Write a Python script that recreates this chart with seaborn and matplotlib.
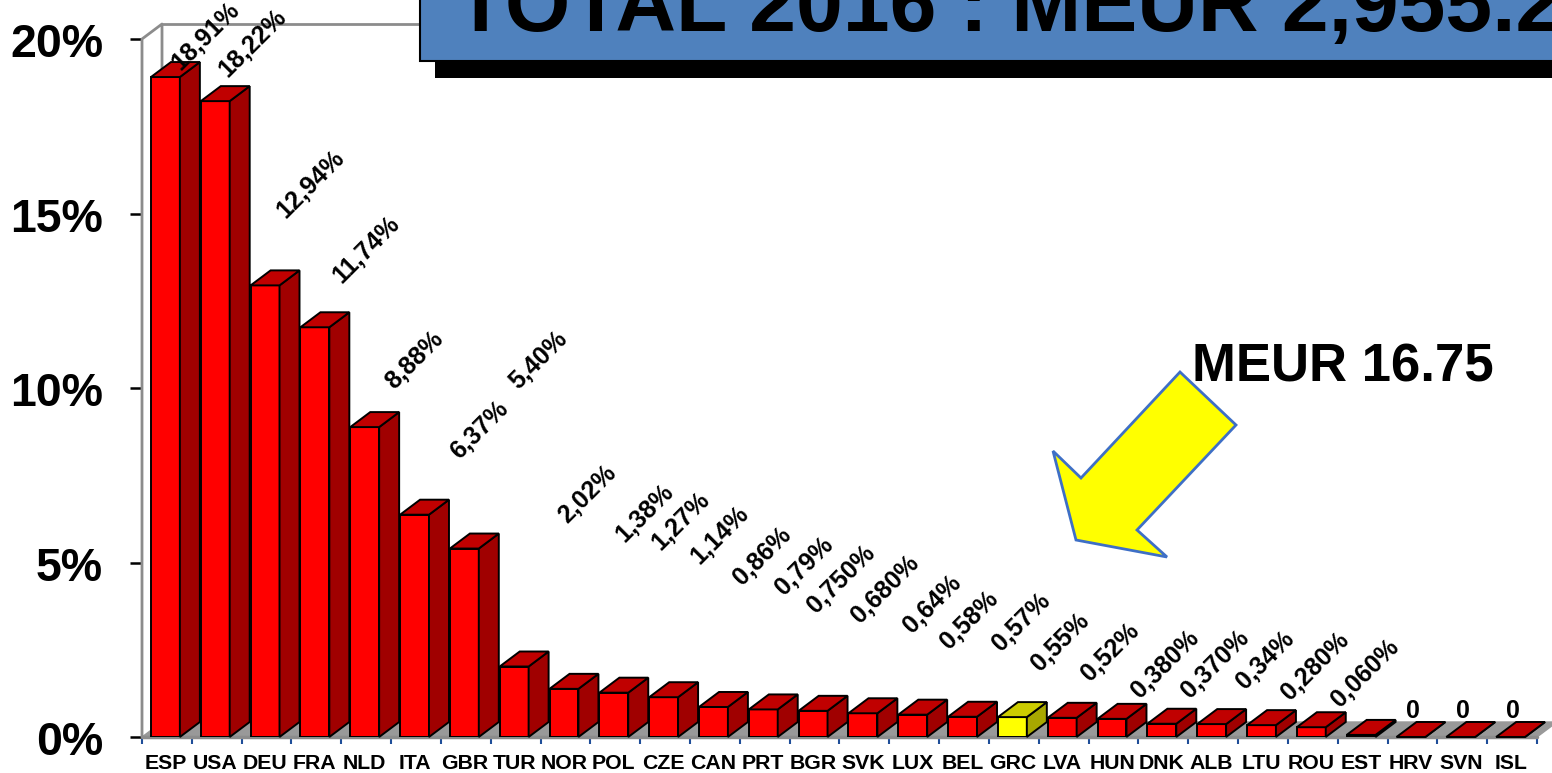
import pandas as pd
import matplotlib
matplotlib.use('Agg')
import matplotlib.pyplot as plt
from matplotlib.patches import Polygon, Rectangle
from matplotlib.transforms import ScaledTranslation
import seaborn as sns

# data
paises = ['ESP', 'USA', 'DEU', 'FRA', 'NLD', 'ITA', 'GBR', 'TUR', 'NOR', 'POL', 'CZE', 'CAN', 'PRT', 'BGR',
          'SVK', 'LUX', 'BEL', 'GRC', 'LVA', 'HUN', 'DNK', 'ALB', 'LTU', 'ROU', 'EST', 'HRV', 'SVN', 'ISL']
valores = [18.91, 18.22, 12.94, 11.74, 8.88, 6.37, 5.40, 2.02, 1.38, 1.27, 1.14, 0.86, 0.79, 0.75,
           0.68, 0.64, 0.58, 0.57, 0.55, 0.52, 0.38, 0.37, 0.34, 0.28, 0.06, 0, 0, 0]
etiquetas = ['18,91%', '18,22%', '12,94%', '11,74%', '8,88%', '6,37%', '5,40%', '2,02%', '1,38%', '1,27%',
             '1,14%', '0,86%', '0,79%', '0,750%', '0,680%', '0,64%', '0,58%', '0,57%', '0,55%', '0,52%',
             '0,380%', '0,370%', '0,34%', '0,280%', '0,060%', '0', '0', '0']
y_ticks = [0, 5, 10, 15, 20]
y_labels = ['0%', '5%', '10%', '15%', '20%']
titulo = 'TOTAL 2016 : MEUR 2,955.2'
nota = 'MEUR 16.75'
destacado = 'GRC'

# where each label sits on the 1552x773 canvas
pos_etiquetas = [(206, 36), (253, 43), (311, 184), (366, 250), (415, 360), (479, 430), (539, 360), (587, 494),
                 (645, 513), (681, 521), (720, 535), (762, 556), (804, 566), (841, 579), (885, 589), (932, 604),
                 (969, 620), (1021, 622), (1060, 642), (1110, 652), (1165, 664), (1215, 664), (1265, 660),
                 (1315, 666), (1365, 673), (1413, 711), (1463, 711), (1513, 711)]

sns.set_theme(style='white')
plt.rcParams['font.family'] = ['Liberation Sans', 'DejaVu Sans']
plt.rcParams['font.weight'] = 'bold'

df = pd.DataFrame({'pais': paises, 'valor': valores})

fig = plt.figure(figsize=(15.52, 7.73), dpi=100)
ax = fig.add_axes([142 / 1552, 36 / 773, 1395 / 1552, 698 / 773])

colores = {p: ('#FFFF00' if p == destacado else '#FF0000') for p in paises}
sns.barplot(data=df, x='pais', y='valor', hue='pais', order=paises, hue_order=paises, palette=colores,
            width=0.58, saturation=1, edgecolor='black', linewidth=1.4, legend=False, ax=ax, zorder=3)

x_min, x_max = -0.47, 27.53
ax.set_xlim(x_min, x_max)
ax.set_ylim(0, 20)
dx = 20 / 49.82
dy = 15 / 34.9

# 3d look: floor, walls, then top and side of each bar
ax.add_patch(Polygon([(x_min, 0), (x_max, 0), (x_max + dx, dy), (x_min + dx, dy)], closed=True,
                     fc='#999999', ec='#999999', lw=1, clip_on=False, zorder=1))
gris = '#8C8C8C'
ax.plot([x_min, x_min, x_min + dx, x_min + dx], [0, 20, 20 + dy, dy], color=gris, lw=2, clip_on=False, zorder=2)
ax.plot([x_min + dx, x_max + dx], [20 + dy, 20 + dy], color=gris, lw=2, clip_on=False, zorder=2)
ax.plot([x_min, x_max], [0, 0], color=gris, lw=2.5, clip_on=False, zorder=2)

for barra, p in zip(ax.patches, paises):
    x0 = barra.get_x()
    x1 = x0 + barra.get_width()
    h = barra.get_height()
    if p == destacado:
        c_top, c_lado = '#CCCC00', '#A8A800'
    else:
        c_top, c_lado = '#C00000', '#A00000'
    ax.add_patch(Polygon([(x1, 0), (x1 + dx, dy), (x1 + dx, h + dy), (x1, h)], closed=True,
                         fc=c_lado, ec='black', lw=1.4, clip_on=False, zorder=3))
    ax.add_patch(Polygon([(x0, h), (x1, h), (x1 + dx, h + dy), (x0 + dx, h + dy)], closed=True,
                         fc=c_top, ec='black', lw=1.4, clip_on=False, zorder=3))

sns.despine(ax=ax, left=True, bottom=True, top=True, right=True)
ax.set_xlabel('')
ax.set_ylabel('')
ax.grid(False)
ax.set_xticks(range(len(paises)))
ax.set_xticklabels(paises, fontsize=15.3, fontweight='bold', color='black')
ax.tick_params(axis='x', which='major', length=0, pad=12)
ax.set_xticks([x_min + i for i in range(len(paises) + 1)], minor=True)
ax.tick_params(axis='x', which='minor', length=5, width=1.5, color='#1F4E99', bottom=True)
ax.set_yticks(y_ticks)
ax.set_yticklabels(y_labels, fontsize=33.5, fontweight='bold', color='black')
ax.tick_params(axis='y', length=9, width=1.8, color='black', left=True, pad=19)
for lab in ax.get_yticklabels():
    lab.set_transform(lab.get_transform() + ScaledTranslation(0, -1 / 72, fig.dpi_scale_trans))

# overlay in canvas pixels for labels, arrow and title box
top = fig.add_axes([0, 0, 1, 1], zorder=5)
top.set_xlim(0, 1552)
top.set_ylim(773, 0)
top.set_axis_off()
top.patch.set_alpha(0)

for txt, (px, py) in zip(etiquetas, pos_etiquetas):
    giro = 0 if txt == '0' else 45
    top.text(px, py, txt, fontsize=18, fontweight='bold', color='black', rotation=giro,
             rotation_mode='anchor', ha='center', va='center')

flecha = [(1180, 372), (1236, 425), (1137, 530), (1167, 557), (1076, 540), (1053, 451), (1081, 478)]
top.add_patch(Polygon(flecha, closed=True, fc='#FFFF00', ec='#3E6FC6', lw=2, joinstyle='miter'))
top.text(1343, 381, nota, fontsize=38, fontweight='bold', color='black', ha='center', va='baseline')

top.add_patch(Rectangle((435, 0), 1130, 78, fc='black', ec='none'))
top.add_patch(Rectangle((420, -10), 1150, 71, fc='#4F81BD', ec='black', lw=1.5))
top.text(455, 31.5, titulo, fontsize=60.5, fontweight='bold', color='black', ha='left', va='baseline')

plt.savefig('out.png', dpi=100)
